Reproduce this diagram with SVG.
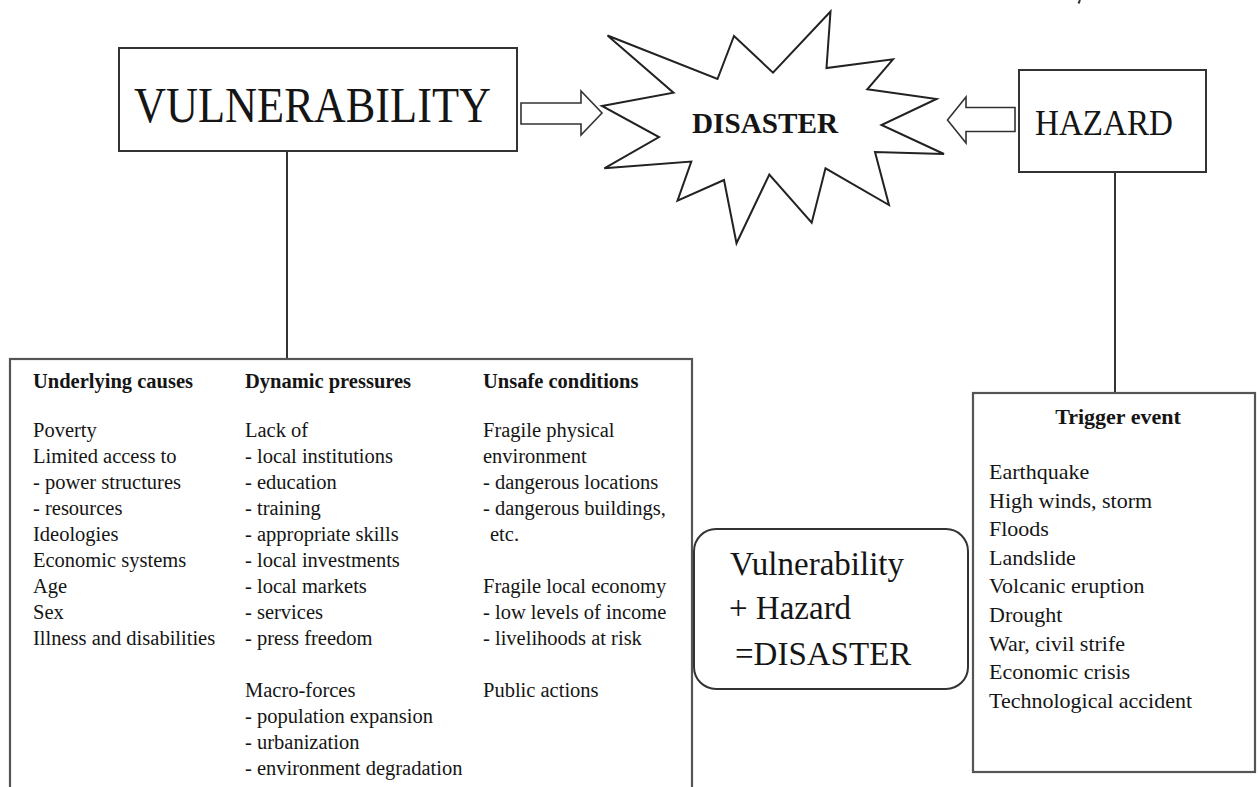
<svg xmlns="http://www.w3.org/2000/svg" width="1258" height="787" viewBox="0 0 1258 787">
<style>
.box{fill:#fff;stroke:#333;stroke-width:2}
.gbox{fill:#fff;stroke:#555;stroke-width:2.2}
.line{stroke:#333;stroke-width:2;fill:none}
.arrow{fill:#fff;stroke:#333;stroke-width:1.6;stroke-linejoin:miter}
.star{fill:#fff;stroke:#222;stroke-width:2;stroke-linejoin:miter}
text{font-family:"Liberation Serif","Times New Roman",serif;fill:#151515}
.b{font-weight:bold}
.s20{font-size:20.5px}
.s22{font-size:22px}
.s33{font-size:33px}
</style>
<rect width="1258" height="787" fill="#fff"/>
<path d="M1080 0 L1078.5 3.5" stroke="#333" stroke-width="2" fill="none"/>
<g id="connectors">
<line class="line" x1="287" y1="151" x2="287" y2="359"/>
<line class="line" x1="1115" y1="172" x2="1115" y2="393"/>
<polygon class="arrow" points="521,103 581,103 581,91 602,113 581,135 581,124 521,124"/>
<polygon class="arrow" points="1015,107.5 966,107.5 966,97 947.5,120 966,143 966,131.5 1015,131.5"/>
</g>
<g id="vulnerability">
<rect class="box" x="119" y="48" width="398" height="103"/>
<text x="134" y="122" font-size="50" textLength="357" lengthAdjust="spacingAndGlyphs">VULNERABILITY</text>
</g>
<g id="disaster">
<polygon class="star" points="607.5,35.5 717.5,79 734,36 773,72.7 830.5,11.5 826.5,68 893,59.3 867.3,89.3 936.5,99 881.5,125 944,154 875,152 889,205 825.5,168.3 811.7,222.7 769.3,174.5 736.5,243.3 724,180 677.5,200.7 691.3,161.5 604.3,168.3 659,137 602,106 673.5,92.7"/>
<text class="b" x="692" y="133" font-size="29" textLength="146" lengthAdjust="spacingAndGlyphs">DISASTER</text>
</g>
<g id="hazard">
<rect class="box" x="1019" y="70" width="187" height="102"/>
<text x="1035" y="135" font-size="36" textLength="138" lengthAdjust="spacingAndGlyphs">HAZARD</text>
</g>
<g id="causes">
<rect class="gbox" x="10" y="359" width="682" height="460"/>
<g class="s20">
<text class="b" x="33" y="388">Underlying causes</text>
<text x="33" y="437">Poverty</text>
<text x="33" y="463">Limited access to</text>
<text x="33" y="489">- power structures</text>
<text x="33" y="515">- resources</text>
<text x="33" y="541">Ideologies</text>
<text x="33" y="567">Economic systems</text>
<text x="33" y="593">Age</text>
<text x="33" y="619">Sex</text>
<text x="33" y="645">Illness and disabilities</text>
<text class="b" x="245" y="388">Dynamic pressures</text>
<text x="245" y="437">Lack of</text>
<text x="245" y="463">- local institutions</text>
<text x="245" y="489">- education</text>
<text x="245" y="515">- training</text>
<text x="245" y="541">- appropriate skills</text>
<text x="245" y="567">- local investments</text>
<text x="245" y="593">- local markets</text>
<text x="245" y="619">- services</text>
<text x="245" y="645">- press freedom</text>
<text x="245" y="697">Macro-forces</text>
<text x="245" y="723">- population expansion</text>
<text x="245" y="749">- urbanization</text>
<text x="245" y="775">- environment degradation</text>
<text class="b" x="483" y="388">Unsafe conditions</text>
<text x="483" y="437">Fragile physical</text>
<text x="483" y="463">environment</text>
<text x="483" y="489">- dangerous locations</text>
<text x="483" y="515">- dangerous buildings,</text>
<text x="490" y="541">etc.</text>
<text x="483" y="593">Fragile local economy</text>
<text x="483" y="619">- low levels of income</text>
<text x="483" y="645">- livelihoods at risk</text>
<text x="483" y="697">Public actions</text>
</g>
</g>
<g id="equation">
<rect class="box" x="694" y="529" width="274" height="160" rx="22" ry="22"/>
<g class="s33">
<text x="730" y="575">Vulnerability</text>
<text x="729" y="619">+ Hazard</text>
<text x="735" y="665">=DISASTER</text>
</g>
</g>
<g id="trigger">
<rect class="gbox" x="973" y="393" width="282" height="379"/>
<text class="b s22" x="1118" y="424" text-anchor="middle">Trigger event</text>
<g class="s22">
<text x="989" y="479">Earthquake</text>
<text x="989" y="507.6">High winds, storm</text>
<text x="989" y="536.2">Floods</text>
<text x="989" y="564.8">Landslide</text>
<text x="989" y="593.4">Volcanic eruption</text>
<text x="989" y="622">Drought</text>
<text x="989" y="650.6">War, civil strife</text>
<text x="989" y="679.2">Economic crisis</text>
<text x="989" y="707.8">Technological accident</text>
</g>
</g>
</svg>
